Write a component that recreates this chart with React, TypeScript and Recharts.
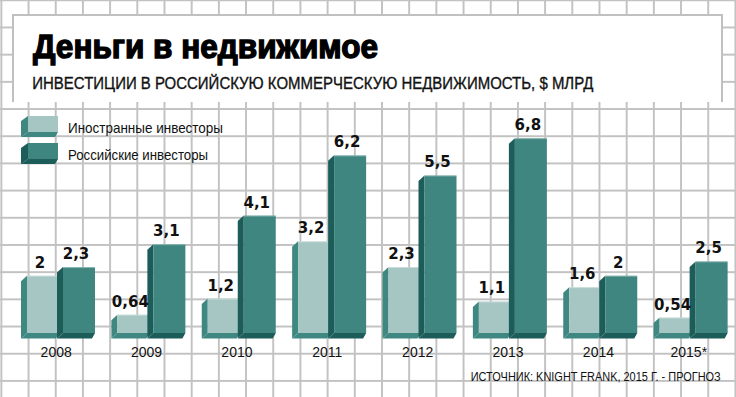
import React from 'react';
import { BarChart, Bar, XAxis, YAxis, LabelList, Legend } from 'recharts';

const years = ['2008', '2009', '2010', '2011', '2012', '2013', '2014', '2015*'];
const foreign = [2, 0.64, 1.2, 3.2, 2.3, 1.1, 1.6, 0.54];
const russian = [2.3, 3.1, 4.1, 6.2, 5.5, 6.8, 2, 2.5];
const seriesNames = ['Иностранные инвесторы', 'Российские инвесторы'];

const data = years.map((year, i) => ({ year, foreign: foreign[i], russian: russian[i] }));

const COLORS = {
  foreign: { front: '#a6c6c3', side: '#3f8882' },
  russian: { front: '#3f8680', side: '#1c5c59' },
};

const DX = 6;
const DY = 5.5;
const NARROW = "'Liberation Sans Narrow', 'Liberation Sans', Arial, sans-serif";

const make3DBar = (c: { front: string; side: string }) => (props: any) => {
  const { x, y, width, height } = props;
  if (height == null || width == null) return null;
  const fx = x + DX;
  const b = y + height;
  return (
    <g>
      <polygon points={`${fx},${y} ${x},${y + DY} ${x},${b + DY} ${fx},${b}`} fill={c.side} />
      <polygon points={`${fx},${b} ${x + width},${b} ${x + width - 3},${b + DY} ${x},${b + DY}`} fill={c.side} />
      <rect x={fx} y={y} width={width - DX} height={height} fill={c.front} />
      <line x1={fx} y1={y + 0.5} x2={x + width} y2={y + 0.5} stroke="#fff" strokeOpacity={0.35} />
    </g>
  );
};

const YearTick = ({ x, y, payload }: any) => (
  <text x={x - 2} y={y} dy={16} textAnchor="middle" fontFamily="'Liberation Sans', Arial, sans-serif" fontSize={14} fill="#111">
    {payload.value}
  </text>
);

const fmt = (v: any) => String(v).replace('.', ',');

const Swatch = ({ top, c }: { top: number; c: { front: string; side: string } }) => (
  <g>
    <polygon points={`28,${top} 21,${top + 5} 21,${top + 21} 28,${top + 16}`} fill={c.side} />
    <polygon points={`28,${top + 16} 58,${top + 16} 55,${top + 21} 21,${top + 21}`} fill={c.side} />
    <rect x={28} y={top} width={30} height={16} fill={c.front} />
  </g>
);

const renderLegend = () => (
  <svg width={260} height={60}>
    <Swatch top={8} c={COLORS.foreign} />
    <text x={68} y={25.3} fontFamily={NARROW} fontSize={14.5} textLength={155} lengthAdjust="spacingAndGlyphs" fill="#111">
      {seriesNames[0]}
    </text>
    <Swatch top={35} c={COLORS.russian} />
    <text x={68} y={52} fontFamily={NARROW} fontSize={14.5} textLength={140} lengthAdjust="spacingAndGlyphs" fill="#111">
      {seriesNames[1]}
    </text>
  </svg>
);

export default function App() {
  return (
    <div
      style={{
        position: 'fixed',
        left: 0,
        top: 0,
        width: 736,
        height: 397,
        backgroundColor: '#fff',
        backgroundImage:
          'linear-gradient(to right, #c2c2c2 0, #c2c2c2 1.5px, transparent 1.5px), linear-gradient(to bottom, #c2c2c2 0, #c2c2c2 1.5px, transparent 1.5px)',
        backgroundSize: '27.2px 27.2px',
        backgroundPosition: '0.4px -0.7px',
        overflow: 'hidden',
      }}
    >
      <div
        style={{
          position: 'absolute',
          left: 12,
          top: 14,
          width: 707,
          height: 86,
          background: '#fff',
          borderLeft: '2px solid #c0c0c0',
          borderTop: '2px solid #c0c0c0',
          borderRight: '2px solid #c0c0c0',
        }}
      />
      <svg width={736} height={397} style={{ position: 'absolute', left: 0, top: 0 }}>
        <text x={33} y={57.5} fontFamily={NARROW} fontWeight={700} fontSize={34} textLength={345} lengthAdjust="spacingAndGlyphs" fill="#000" stroke="#000" strokeWidth={1.4}>
          Деньги в недвижимое
        </text>
        <text x={32.3} y={89.3} fontFamily={NARROW} fontSize={16.8} textLength={561} lengthAdjust="spacingAndGlyphs" fill="#111" stroke="#111" strokeWidth={0.35}>
          ИНВЕСТИЦИИ В РОССИЙСКУЮ КОММЕРЧЕСКУЮ НЕДВИЖИМОСТЬ, $ МЛРД
        </text>
        <text transform="translate(470.7,381) scale(0.78,1)" x={0} y={0} fontFamily={NARROW} fontSize={12.6} textLength={250 / 0.78} lengthAdjust="spacingAndGlyphs" fill="#111">
          ИСТОЧНИК: KNIGHT FRANK, 2015 Г. - ПРОГНОЗ
        </text>
      </svg>
      <div style={{ position: 'absolute', left: 0, top: 0 }}>
        <BarChart width={736} height={397} data={data} margin={{ top: 103.8, right: 0, left: 13, bottom: 34 }} barSize={38} barGap={-2}>
          <XAxis dataKey="year" axisLine={false} tickLine={false} height={30} interval={0} tick={<YearTick />} />
          <YAxis hide domain={[0, 8]} />
          <Legend verticalAlign="middle" align="center" layout="horizontal" content={renderLegend} wrapperStyle={{ position: 'absolute', left: 0, top: 108, width: 260, height: 60 }} />
          <Bar dataKey="foreign" name={seriesNames[0]} shape={make3DBar(COLORS.foreign)} isAnimationActive={false}>
            <LabelList dataKey="foreign" position="top" offset={8} formatter={fmt} fontFamily="'DejaVu Sans', sans-serif" fontWeight={700} fontSize={15} fill="#111" />
          </Bar>
          <Bar dataKey="russian" name={seriesNames[1]} shape={make3DBar(COLORS.russian)} isAnimationActive={false}>
            <LabelList dataKey="russian" position="top" offset={8} formatter={fmt} fontFamily="'DejaVu Sans', sans-serif" fontWeight={700} fontSize={15} fill="#111" />
          </Bar>
        </BarChart>
      </div>
    </div>
  );
}
